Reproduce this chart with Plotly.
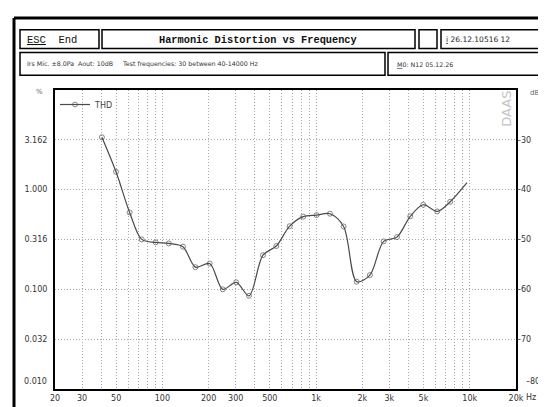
import plotly.graph_objects as go

# ---- data ----
freq_hz = [40.4, 49.9, 61.2, 73.3, 90.4, 110, 136, 164, 203, 247, 302, 366, 451, 551,
           673, 824, 1008, 1231, 1511, 1837, 2241, 2752, 3359, 4100, 4980, 6140, 7460, 9590]
thd_pct = [3.36, 1.51, 0.591, 0.317, 0.296, 0.289, 0.268, 0.167, 0.1815, 0.100, 0.1175, 0.0861,
           0.220, 0.272, 0.430, 0.536, 0.556, 0.574, 0.427, 0.1194, 0.139, 0.303, 0.334, 0.540,
           0.706, 0.605, 0.756, 1.175]
marked = [True] * 27 + [False]

x_grid = [20, 30, 40, 50, 60, 70, 80, 90, 100, 200, 300, 400, 500, 600, 700, 800, 900,
          1000, 2000, 3000, 4000, 5000, 6000, 7000, 8000, 9000, 10000, 20000]
x_labels = {20: "20", 30: "30", 50: "50", 100: "100", 200: "200", 300: "300", 500: "500",
            1000: "1k", 2000: "2k", 3000: "3k", 5000: "5k", 10000: "10k", 20000: "20k"}
y_ticks = [0.01, 0.0316, 0.1, 0.316, 1.0, 3.162, 10.0]
y_ticktext = ["", "0.032", "0.100", "0.316", "1.000", "3.162", ""]
y_bottom_label = "0.010"
db_ticks = [-80, -70, -60, -50, -40, -30]
db_ticktext = ["", "\u201370", "\u201360", "\u201350", "\u201340", "\u201330"]
db_bottom_label = "\u201380"

W, H = 546, 407
L, R, T, B = 47, 508, 82, 385

def px(x):
    return (x - L) / (R - L)

def py(y):
    return (B - y) / (B - T)

fig = go.Figure()
fig.add_trace(go.Scatter(
    x=freq_hz, y=thd_pct, mode="lines+markers", name="THD",
    line=dict(color="#4a4a4a", width=1.2, shape="spline", smoothing=0.9),
    marker=dict(symbol="circle-open", size=[5 if m else 0 for m in marked],
                color="#555555", line=dict(width=1)),
))
# invisible trace for right dB axis
fig.add_trace(go.Scatter(x=[20], y=[-80], yaxis="y2", mode="markers",
                         marker=dict(opacity=0), showlegend=False, hoverinfo="skip"))

tickfont = dict(family="DejaVu Sans", size=8, color="#333333")
GRID = "#a8a8a8"
DASH = "1px,2px"

fig.update_layout(
    width=W, height=H,
    margin=dict(l=L, r=W - R, t=T, b=H - B),
    paper_bgcolor="white", plot_bgcolor="white",
    showlegend=True,
    legend=dict(x=0.0, y=1.0, xanchor="left", yanchor="top",
                font=dict(family="DejaVu Sans", size=8, color="#444"),
                bgcolor="rgba(0,0,0,0)", itemwidth=30, tracegroupgap=0),
    xaxis=dict(type="log", range=[1.30103, 4.30103],
               tickvals=x_grid, ticktext=[x_labels.get(v, "") for v in x_grid],
               showgrid=True, gridcolor=GRID, griddash=DASH, gridwidth=1,
               showline=True, linecolor="black", linewidth=2, mirror=True,
               ticks="", tickfont=tickfont, zeroline=False),
    yaxis=dict(type="log", range=[-2, 1], tickvals=y_ticks, ticktext=y_ticktext,
               showgrid=True, gridcolor=GRID, griddash=DASH, gridwidth=1,
               showline=True, linecolor="black", linewidth=2, mirror=True,
               ticks="", tickfont=tickfont, ticklabelstandoff=4, zeroline=False),
    yaxis2=dict(overlaying="y", side="right", range=[-80, -20], tickvals=db_ticks,
                ticktext=db_ticktext, showgrid=False, zeroline=False, showline=False,
                ticks="", tickfont=tickfont, ticklabelstandoff=0),
)

shapes = []
def rect(x0, y0, x1, y1, w=1.5, color="black"):
    shapes.append(dict(type="rect", xref="paper", yref="paper",
                       x0=px(x0), x1=px(x1), y0=py(y1), y1=py(y0),
                       line=dict(color=color, width=w), fillcolor="rgba(0,0,0,0)", layer="above"))
def line(x0, y0, x1, y1, w=2, color="black"):
    shapes.append(dict(type="line", xref="paper", yref="paper",
                       x0=px(x0), x1=px(x1), y0=py(y0), y1=py(y1),
                       line=dict(color=color, width=w), layer="above"))

# outer frame
line(6, 9, 546, 9, w=3)
line(6, 9, 6, 407, w=3)
# header row 1
rect(12, 21, 91, 40)
rect(94, 21, 407, 40)
rect(411, 21, 429, 40)
rect(433, 21, 548, 40)
# header row 2
rect(12, 44, 377, 67)
rect(380, 44, 548, 67)
fig.update_layout(shapes=shapes)

ann = []
def text(x, y, s, size=8, family="DejaVu Sans", color="#333", xanchor="left", **kw):
    ann.append(dict(xref="paper", yref="paper", x=px(x), y=py(y), text=s, showarrow=False,
                    xanchor=xanchor, yanchor="middle",
                    font=dict(family=family, size=size, color=color), **kw))

text(17, 31, "<u>ESC</u>  End", size=10.5, family="Liberation Mono", color="#111")
text(250, 31, "<b>Harmonic Distortion vs Frequency</b>", size=10.3, family="Liberation Mono",
     color="#111", xanchor="center")
text(436, 31, "<u>i</u> 26.12.10516 12", size=7.5, color="#222")
text(17, 56, "Irs Mic. \u00b18.0Pa  Aout: 10dB     Test frequencies: 30 between 40-14000 Hz",
     size=6.3, color="#333")
text(387, 56, "<u>M</u>0: N12 05.12.26", size=6.3, color="#333")
text(31, 84, "%", size=7, color="#666", xanchor="center")
text(526, 85, "dB", size=7, color="#666", xanchor="center")
text(523, 394, "Hz", size=8, color="#333", xanchor="center")
text(499, 101, "DAAS", size=13, color="#c4c4c4", xanchor="center", textangle=-90)
# bottom tick labels sit slightly above the frame in the reference
ann.append(dict(xref="paper", yref="y", x=px(41), y=-2, yshift=8, text=y_bottom_label,
                showarrow=False, xanchor="right", yanchor="middle", font=tickfont))
ann.append(dict(xref="paper", yref="y2", x=px(516), y=-80, yshift=8, text=db_bottom_label,
                showarrow=False, xanchor="left", yanchor="middle", font=tickfont))
fig.update_layout(annotations=ann)

fig.write_html("out.html")
